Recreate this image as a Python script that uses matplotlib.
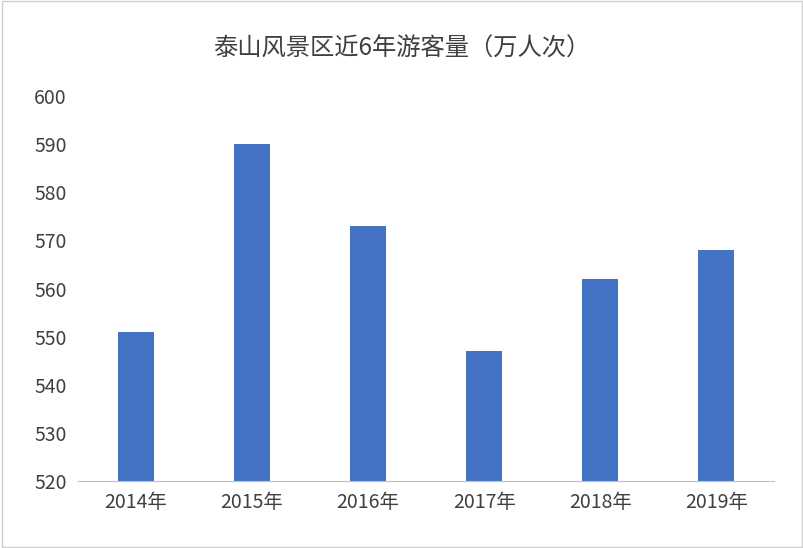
import matplotlib.pyplot as plt

plt.rcParams['font.family'] = ['Noto Sans CJK SC', 'DejaVu Sans']

years = ["2014年", "2015年", "2016年", "2017年", "2018年", "2019年"]
visitors = [551, 590, 573, 547, 562, 568]

fig = plt.figure(figsize=(8.04, 5.48), dpi=100)
ax = fig.add_axes([0.097, 0.122, 0.866, 0.703])

ax.bar(range(len(years)), visitors, width=0.31, color="#4472C4")
ax.set_ylim(520, 600)
ax.set_xlim(-0.5, len(years) - 0.5)
ax.set_yticks(range(520, 601, 10))
ax.set_xticks(range(len(years)))
ax.set_xticklabels(years)

for s in ["top", "right", "left"]:
    ax.spines[s].set_visible(False)
ax.spines["bottom"].set_color("#BFBFBF")
ax.tick_params(axis="both", length=0, labelsize=14, colors="#404040", pad=8)

fig.suptitle("泰山风景区近6年游客量（万人次）", y=0.935, fontsize=17.5, color="#404040")

fig.patches.append(plt.Rectangle((0.002, 0.002), 0.996, 0.996, transform=fig.transFigure,
                                 fill=False, edgecolor="#D0D0D0", linewidth=1))

fig.savefig("out.png", dpi=100)
